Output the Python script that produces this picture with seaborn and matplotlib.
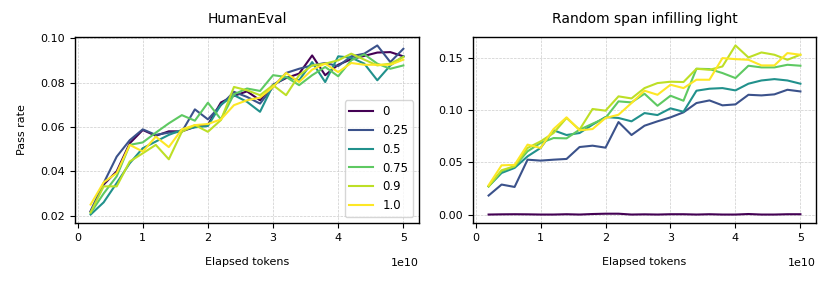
import numpy as np
import pandas as pd
import matplotlib
matplotlib.use("Agg")
import matplotlib.pyplot as plt
import seaborn as sns

tokens = [2e9 * (i + 1) for i in range(25)]
labels = ["0", "0.25", "0.5", "0.75", "0.9", "1.0"]
levels = [0.0, 0.25, 0.5, 0.75, 0.9, 1.0]

humaneval_0 = [0.022, 0.034, 0.040, 0.0526, 0.0586, 0.056, 0.058, 0.058, 0.060, 0.061, 0.071, 0.074, 0.076, 0.072, 0.079, 0.082, 0.084, 0.0922, 0.0833, 0.088, 0.0905, 0.092, 0.0935, 0.0937, 0.0918]
humaneval_025 = [0.022, 0.0347, 0.0466, 0.054, 0.0589, 0.0564, 0.0574, 0.0578, 0.0679, 0.0634, 0.0698, 0.0758, 0.0735, 0.0705, 0.078, 0.0843, 0.0862, 0.0877, 0.0888, 0.0874, 0.0918, 0.093, 0.0967, 0.0892, 0.0952]
humaneval_05 = [0.0205, 0.026, 0.0347, 0.0436, 0.0504, 0.0534, 0.0564, 0.0586, 0.0598, 0.0604, 0.070, 0.0743, 0.0713, 0.0668, 0.0788, 0.0825, 0.081, 0.0892, 0.0802, 0.0918, 0.0912, 0.0885, 0.081, 0.0877, 0.0918]
humaneval_075 = [0.0212, 0.030, 0.0377, 0.0519, 0.053, 0.0574, 0.0616, 0.0653, 0.0628, 0.0709, 0.0634, 0.0747, 0.0773, 0.0762, 0.0833, 0.0825, 0.0788, 0.0833, 0.087, 0.0828, 0.090, 0.0927, 0.0885, 0.0862, 0.0877]
humaneval_09 = [0.0215, 0.0332, 0.0332, 0.0444, 0.0481, 0.0519, 0.0454, 0.0578, 0.0608, 0.0578, 0.0631, 0.078, 0.0765, 0.0743, 0.0788, 0.0743, 0.0833, 0.0877, 0.0885, 0.090, 0.093, 0.0903, 0.0877, 0.0885, 0.0915]
humaneval_1 = [0.025, 0.035, 0.0392, 0.0519, 0.0489, 0.0556, 0.0509, 0.0589, 0.0608, 0.0613, 0.0634, 0.0698, 0.072, 0.0732, 0.078, 0.0843, 0.0802, 0.0858, 0.0885, 0.0847, 0.0888, 0.088, 0.088, 0.088, 0.0903]

span_0 = [0.0000, 0.0002, 0.0003, 0.0002, 0.0000, 0.0000, 0.0003, 0.0000, 0.0005, 0.0008, 0.0008, 0.0000, 0.0002, 0.0000, 0.0003, 0.0003, 0.0000, 0.0003, 0.0000, 0.0000, 0.0005, 0.0000, 0.0000, 0.0003, 0.0003]
span_025 = [0.0182, 0.0287, 0.0264, 0.0525, 0.0516, 0.0525, 0.0532, 0.0646, 0.0659, 0.064, 0.0885, 0.0761, 0.085, 0.0892, 0.093, 0.0978, 0.1067, 0.1092, 0.1045, 0.1054, 0.1146, 0.114, 0.115, 0.1194, 0.1178]
span_05 = [0.027, 0.0398, 0.0446, 0.0557, 0.0637, 0.0806, 0.0761, 0.078, 0.086, 0.0933, 0.0924, 0.0892, 0.0971, 0.0952, 0.1016, 0.0984, 0.1185, 0.1204, 0.121, 0.1188, 0.1252, 0.1283, 0.1296, 0.1283, 0.1252]
span_075 = [0.027, 0.0414, 0.0462, 0.0605, 0.0685, 0.0732, 0.0729, 0.0812, 0.0869, 0.0924, 0.1083, 0.1073, 0.1156, 0.1041, 0.1137, 0.1089, 0.1395, 0.1392, 0.1354, 0.1306, 0.1424, 0.1408, 0.1408, 0.1433, 0.1424]
span_09 = [0.027, 0.0424, 0.0462, 0.0637, 0.070, 0.078, 0.0924, 0.0812, 0.101, 0.0994, 0.1131, 0.1111, 0.121, 0.1258, 0.1271, 0.1268, 0.1395, 0.1385, 0.1417, 0.1618, 0.1503, 0.1551, 0.1529, 0.1481, 0.1529]
span_1 = [0.028, 0.0471, 0.0475, 0.0669, 0.0637, 0.0818, 0.093, 0.0806, 0.0818, 0.0924, 0.0955, 0.1067, 0.1185, 0.1146, 0.1242, 0.121, 0.129, 0.129, 0.1497, 0.1487, 0.1481, 0.1427, 0.1427, 0.1545, 0.1529]

humaneval = [humaneval_0, humaneval_025, humaneval_05, humaneval_075, humaneval_09, humaneval_1]
span = [span_0, span_025, span_05, span_075, span_09, span_1]


def long_df(series_list):
    rows = []
    for lab, vals in zip(labels, series_list):
        for t, v in zip(tokens, vals):
            rows.append({"tokens": t, "rate": v, "mix": lab})
    return pd.DataFrame(rows)


cmap = plt.get_cmap("viridis")
palette = {lab: cmap(lv) for lab, lv in zip(labels, levels)}

plt.rcParams["font.family"] = ["DejaVu Sans"]
fig = plt.figure(figsize=(8.31, 2.84), dpi=100)
ax1 = fig.add_axes([75 / 831, 61 / 284, 344 / 831, 186 / 284])
ax2 = fig.add_axes([473 / 831, 61 / 284, 343 / 831, 186 / 284])

for ax, data, title in [(ax1, humaneval, "HumanEval"), (ax2, span, "Random span infilling light")]:
    sns.lineplot(data=long_df(data), x="tokens", y="rate", hue="mix",
                 hue_order=labels, palette=palette, linewidth=1.5, ax=ax,
                 legend=(ax is ax1))
    ax.set_title(title, fontsize=10, pad=10)
    ax.set_xlabel("Elapsed tokens", fontsize=8, labelpad=10)
    ax.set_ylabel("Pass rate" if ax is ax1 else "", fontsize=8, labelpad=10)
    ax.tick_params(labelsize=8)
    ax.xaxis.get_offset_text().set_visible(False)
    ax.annotate("1e10", xy=(1, 0), xycoords="axes fraction",
                xytext=(0, -40), textcoords="offset pixels",
                ha="right", va="center", fontsize=8)
    ax.grid(True, color="#cccccc", linewidth=0.5, linestyle="--")
    ax.set_axisbelow(True)
    for s in ax.spines.values():
        s.set_linewidth(1.0)

ax1.set_yticks([0.02, 0.04, 0.06, 0.08, 0.10])
ax2.set_yticks([0.0, 0.05, 0.10, 0.15])
leg = ax1.legend(loc="lower right", fontsize=8.5, title=None)

fig.savefig("out.png", dpi=100)
